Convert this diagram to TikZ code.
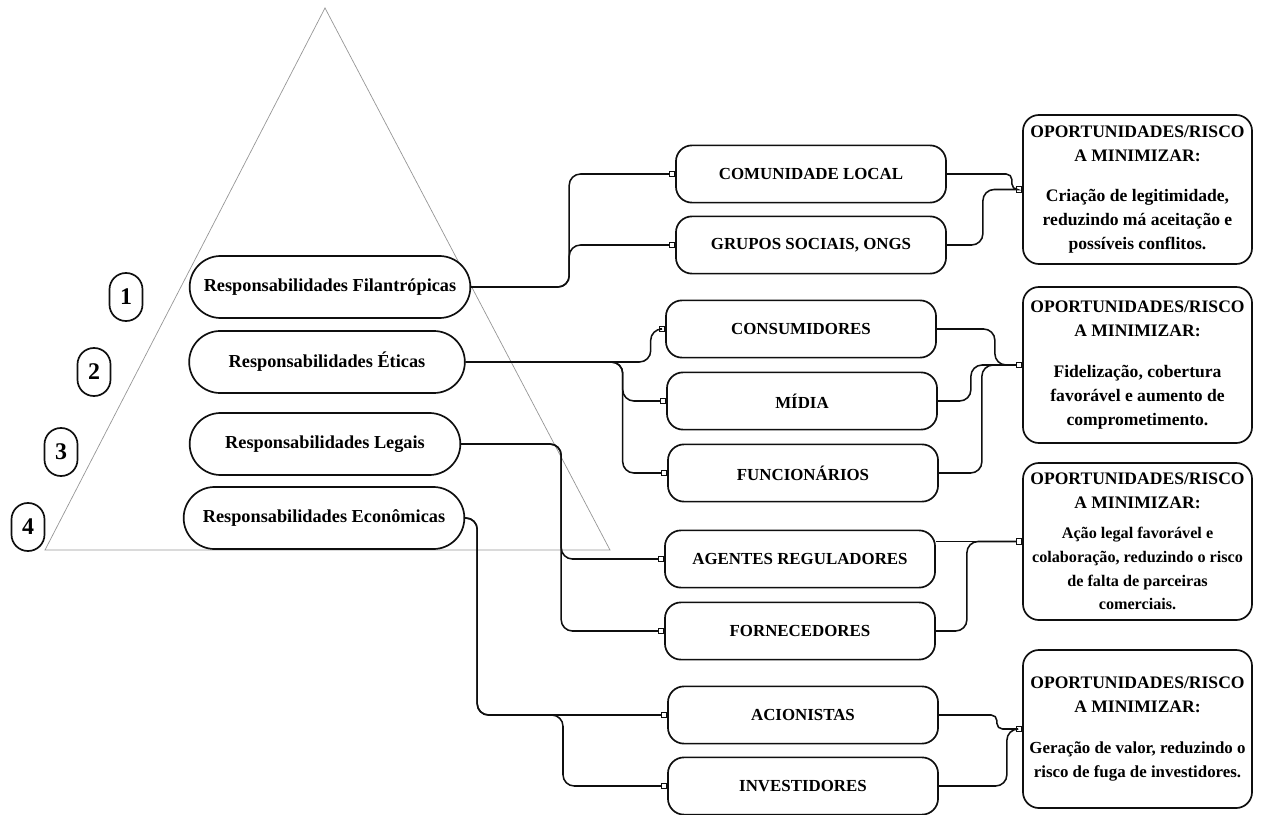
\documentclass[tikz,border=0pt]{standalone}
\usepackage{fontspec}
\setmainfont{Liberation Serif}
\usepackage{tikz}
\usetikzlibrary{arrows.meta,positioning,shapes.misc,calc}
\definecolor{pyrgray}{RGB}{150,150,150}
\definecolor{ink}{RGB}{15,15,15}
\newcommand{\riskdense}{\fontsize{11.5}{15.5}\selectfont}
\newcommand{\riskbody}{\fontsize{12}{17}\selectfont}

\begin{document}
\begin{tikzpicture}[x=0.025cm,y=-0.025cm,
        level/.style={rounded rectangle,draw=ink,line width=1.2pt,fill=white,minimum height=1.55cm,font=\fontsize{13}{15}\selectfont\bfseries},
        num/.style={rectangle,rounded corners=0.41cm,draw=ink,line width=1.2pt,fill=white,minimum width=0.825cm,minimum height=1.2cm,inner sep=0pt,font=\fontsize{17}{19}\selectfont\bfseries},
        party/.style={rectangle,rounded corners=0.4cm,draw=ink,line width=1.2pt,fill=white,minimum width=6.75cm,minimum height=1.43cm,font=\fontsize{12}{14}\selectfont\bfseries},
        risk/.style={rectangle,rounded corners=0.4cm,draw=ink,line width=1.2pt,fill=white,minimum width=5.725cm,inner xsep=1pt,align=center,font=\fontsize{12.5}{17}\selectfont\bfseries},
        link/.style={draw=ink,line width=1.1pt,rounded corners=8pt,-{Square[open,length=4.5pt,width=4.5pt,line width=0.8pt]}}]
        \useasboundingbox (0,0) rectangle (1263,815);
        % pyramid
        \draw[pyrgray,line width=0.5pt] (325,8) -- (45,550) -- (610,550) -- cycle;
        \node[level,minimum width=7.25cm] (fil) at (330,287) {Responsabilidades Filantrópicas};
        \node[level,minimum width=7.125cm] (eti) at (327,362) {Responsabilidades Éticas};
        \node[level,minimum width=7.0cm] (leg) at (325,444) {Responsabilidades Legais};
        \node[level,minimum width=7.25cm] (eco) at (324,518) {Responsabilidades Econômicas};
        \node[num] (n1) at (126,297) {1};
        \node[num] (n2) at (94,372) {2};
        \node[num] (n3) at (61,452) {3};
        \node[num] (n4) at (28,527) {4};
        % stakeholders
        \node[party] (com) at (811,174) {COMUNIDADE LOCAL};
        \node[party] (gru) at (811,245) {GRUPOS SOCIAIS, ONGS};
        \node[party] (con) at (801,329) {CONSUMIDORES};
        \node[party] (mid) at (802,401) {MÍDIA};
        \node[party] (fun) at (803,473) {FUNCIONÁRIOS};
        \node[party] (age) at (800,559) {AGENTES REGULADORES};
        \node[party] (for) at (800,631) {FORNECEDORES};
        \node[party] (aci) at (803,715) {ACIONISTAS};
        \node[party] (inv) at (803,786) {INVESTIDORES};
        % opportunities
        \node[risk,minimum height=3.725cm] (opp1) at (1137.5,189.5) {OPORTUNIDADES/RISCO\\A MINIMIZAR:\\[0.42cm]Criação de legitimidade,\\reduzindo má aceitação e\\possíveis conflitos.};
        \node[risk,minimum height=3.9cm] (opp2) at (1137.5,365) {OPORTUNIDADES/RISCO\\A MINIMIZAR:\\[0.42cm]Fidelização, cobertura\\favorável e aumento de\\comprometimento.};
        \node[risk,minimum height=3.925cm] (opp3) at (1137.5,541.5) {OPORTUNIDADES/RISCO\\A MINIMIZAR:\\[0.15cm]\riskdense Ação legal favorável e\\\riskdense colaboração, reduzindo o risco\\\riskdense de falta de parceiras\\\riskdense comerciais.};
        \node[risk,minimum height=3.95cm] (opp4) at (1137.5,729) {OPORTUNIDADES/RISCO\\A MINIMIZAR:\\[0.42cm]\riskbody Geração de valor, reduzindo o\\\riskbody risco de fuga de investidores.};
        % links to stakeholders
        \draw[link] (fil.east) -- ++(98,0) |- (com.west);
        \draw[link] (fil.east) -- ++(98,0) |- (gru.west);
        \draw[link] (eti.east) -- ++(185,0) |- (con.west);
        \draw[link] (eti.east) -- ++(157,0) |- (mid.west);
        \draw[link] (eti.east) -- ++(157,0) |- (fun.west);
        \draw[link] (leg.east) -- ++(100,0) |- (age.west);
        \draw[link] (leg.east) -- ++(100,0) |- (for.west);
        \coordinate (ecoj) at (563,715);
        \draw[link] (eco.east) -- ++(12,0) |- (aci.west);
        \draw[link] (eco.east) -- ++(12,0) |- (ecoj) |- (inv.west);
        % links to opportunities
        \draw[link,rounded corners=4pt] (com.east) -- ++(65,0) |- (opp1.west);
        \draw[link] (gru.east) -- ++(36,0) |- (opp1.west);
        \draw[link] (con.east) -- ++(58,0) |- (opp2.west);
        \draw[link] (mid.east) -- ++(33,0) |- (opp2.west);
        \draw[link] (fun.east) -- ++(43,0) |- (opp2.west);
        \draw[link] (opp3.west -| age.east) -- (opp3.west);
        \draw[link] (for.east) -- ++(31,0) |- (opp3.west);
        \draw[link,rounded corners=4pt] (aci.east) -- ++(58,0) |- (opp4.west);
        \draw[link] (inv.east) -- ++(68,0) |- (opp4.west);
\end{tikzpicture}
\end{document}
